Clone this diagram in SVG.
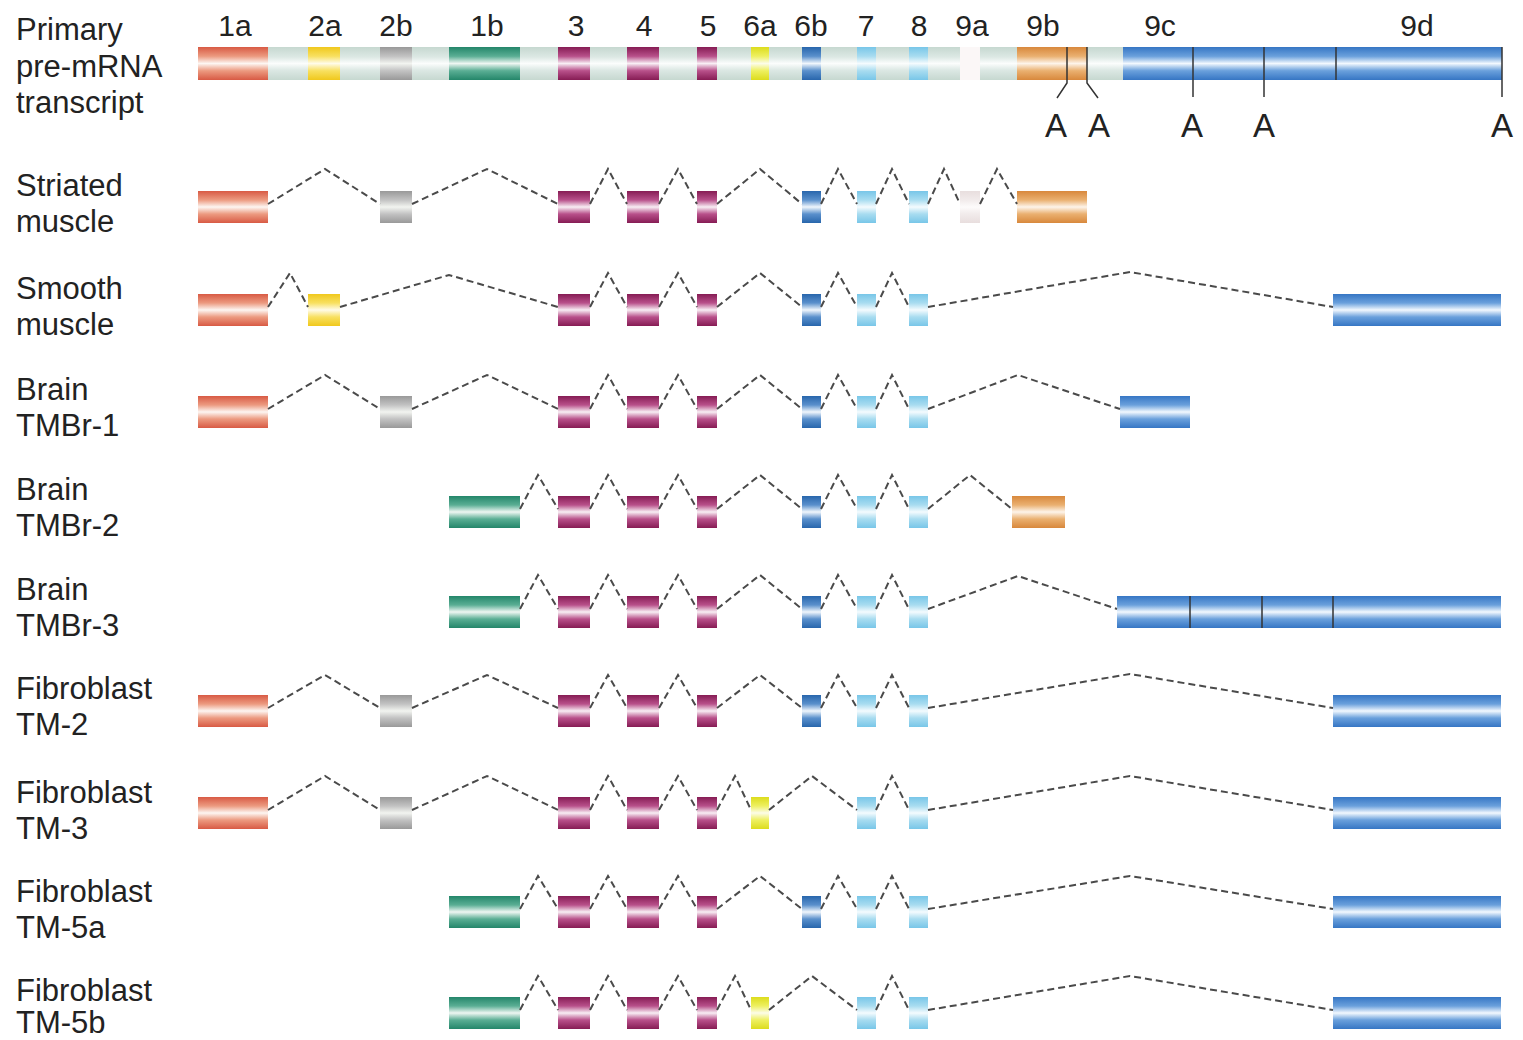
<svg xmlns="http://www.w3.org/2000/svg" width="1523" height="1040" viewBox="0 0 1523 1040">
<style>
text{font-family:"Liberation Sans",Arial,sans-serif;fill:#222}
.lab{font-size:31px}
.num{font-size:30px;text-anchor:middle}
.pa{font-size:33px;text-anchor:middle}
.conn{fill:none;stroke:#4a4a4a;stroke-width:2;stroke-dasharray:7 4}
.tick{stroke:#333;stroke-width:1.5;fill:none}
</style>
<defs>
<linearGradient id="gRed" x1="0" y1="0" x2="0" y2="1"><stop offset="0" stop-color="#d85a44"/><stop offset="0.28" stop-color="#ec9a80"/><stop offset="0.5" stop-color="#fdf6f2"/><stop offset="0.72" stop-color="#ec9a80"/><stop offset="1" stop-color="#d85a44"/></linearGradient>
<linearGradient id="gYel" x1="0" y1="0" x2="0" y2="1"><stop offset="0" stop-color="#f0c81c"/><stop offset="0.28" stop-color="#f8e060"/><stop offset="0.5" stop-color="#fffbe8"/><stop offset="0.72" stop-color="#f8e060"/><stop offset="1" stop-color="#f0c81c"/></linearGradient>
<linearGradient id="gGray" x1="0" y1="0" x2="0" y2="1"><stop offset="0" stop-color="#999"/><stop offset="0.28" stop-color="#c2c2c2"/><stop offset="0.5" stop-color="#f2f4f0"/><stop offset="0.72" stop-color="#c2c2c2"/><stop offset="1" stop-color="#999"/></linearGradient>
<linearGradient id="gGreen" x1="0" y1="0" x2="0" y2="1"><stop offset="0" stop-color="#24866a"/><stop offset="0.28" stop-color="#5aae94"/><stop offset="0.5" stop-color="#eef6f2"/><stop offset="0.72" stop-color="#5aae94"/><stop offset="1" stop-color="#24866a"/></linearGradient>
<linearGradient id="gMag" x1="0" y1="0" x2="0" y2="1"><stop offset="0" stop-color="#861c54"/><stop offset="0.28" stop-color="#b8508a"/><stop offset="0.5" stop-color="#f8eef4"/><stop offset="0.72" stop-color="#b8508a"/><stop offset="1" stop-color="#861c54"/></linearGradient>
<linearGradient id="gYG" x1="0" y1="0" x2="0" y2="1"><stop offset="0" stop-color="#dcdc1c"/><stop offset="0.28" stop-color="#eef060"/><stop offset="0.5" stop-color="#fcfce8"/><stop offset="0.72" stop-color="#eef060"/><stop offset="1" stop-color="#dcdc1c"/></linearGradient>
<linearGradient id="gBlue6" x1="0" y1="0" x2="0" y2="1"><stop offset="0" stop-color="#2866ac"/><stop offset="0.28" stop-color="#5a90cc"/><stop offset="0.5" stop-color="#f0f6fc"/><stop offset="0.72" stop-color="#5a90cc"/><stop offset="1" stop-color="#2866ac"/></linearGradient>
<linearGradient id="gLB" x1="0" y1="0" x2="0" y2="1"><stop offset="0" stop-color="#78c6e8"/><stop offset="0.28" stop-color="#a8dcf0"/><stop offset="0.5" stop-color="#f4fbfe"/><stop offset="0.72" stop-color="#a8dcf0"/><stop offset="1" stop-color="#78c6e8"/></linearGradient>
<linearGradient id="g9a" x1="0" y1="0" x2="0" y2="1"><stop offset="0" stop-color="#e8dede"/><stop offset="0.3" stop-color="#f2ecec"/><stop offset="0.5" stop-color="#fdfbfb"/><stop offset="0.7" stop-color="#f2ecec"/><stop offset="1" stop-color="#e8dede"/></linearGradient>
<linearGradient id="gOr" x1="0" y1="0" x2="0" y2="1"><stop offset="0" stop-color="#d8883c"/><stop offset="0.28" stop-color="#eab070"/><stop offset="0.5" stop-color="#fdf4ea"/><stop offset="0.72" stop-color="#eab070"/><stop offset="1" stop-color="#d8883c"/></linearGradient>
<linearGradient id="gBlue9" x1="0" y1="0" x2="0" y2="1"><stop offset="0" stop-color="#3676c4"/><stop offset="0.28" stop-color="#6aa0dc"/><stop offset="0.5" stop-color="#f2f8fe"/><stop offset="0.72" stop-color="#6aa0dc"/><stop offset="1" stop-color="#3676c4"/></linearGradient>
<linearGradient id="gIntron" x1="0" y1="0" x2="0" y2="1"><stop offset="0" stop-color="#c6d8d0"/><stop offset="0.3" stop-color="#dce8e4"/><stop offset="0.5" stop-color="#fbfdfc"/><stop offset="0.7" stop-color="#dce8e4"/><stop offset="1" stop-color="#c6d8d0"/></linearGradient>
</defs>
<rect width="1523" height="1040" fill="#fff"/>

<g id="primary">
<text class="lab" x="16" y="40">Primary</text>
<text class="lab" x="16" y="77">pre-mRNA</text>
<text class="lab" x="16" y="113">transcript</text>
<text class="num" x="235" y="36">1a</text>
<text class="num" x="325" y="36">2a</text>
<text class="num" x="396" y="36">2b</text>
<text class="num" x="487" y="36">1b</text>
<text class="num" x="576" y="36">3</text>
<text class="num" x="644" y="36">4</text>
<text class="num" x="708" y="36">5</text>
<text class="num" x="760" y="36">6a</text>
<text class="num" x="811" y="36">6b</text>
<text class="num" x="866" y="36">7</text>
<text class="num" x="919" y="36">8</text>
<text class="num" x="972" y="36">9a</text>
<text class="num" x="1043" y="36">9b</text>
<text class="num" x="1160" y="36">9c</text>
<text class="num" x="1417" y="36">9d</text>
<rect x="198" y="47" width="1304" height="33" fill="url(#gIntron)"/>
<rect x="198" y="47" width="70" height="33" fill="url(#gRed)"/>
<rect x="308" y="47" width="32" height="33" fill="url(#gYel)"/>
<rect x="380" y="47" width="32" height="33" fill="url(#gGray)"/>
<rect x="449" y="47" width="71" height="33" fill="url(#gGreen)"/>
<rect x="558" y="47" width="32" height="33" fill="url(#gMag)"/>
<rect x="627" y="47" width="32" height="33" fill="url(#gMag)"/>
<rect x="697" y="47" width="20" height="33" fill="url(#gMag)"/>
<rect x="751" y="47" width="18" height="33" fill="url(#gYG)"/>
<rect x="802" y="47" width="19" height="33" fill="url(#gBlue6)"/>
<rect x="857" y="47" width="19" height="33" fill="url(#gLB)"/>
<rect x="909" y="47" width="19" height="33" fill="url(#gLB)"/>
<rect x="960" y="47" width="20" height="33" fill="#fbf7f7"/>
<rect x="1017" y="47" width="70" height="33" fill="url(#gOr)"/>
<rect x="1123" y="47" width="379" height="33" fill="url(#gBlue9)"/>
<polyline class="tick" points="1067,47 1067,83 1057,98"/>
<polyline class="tick" points="1087,47 1087,83 1098,98"/>
<line class="tick" x1="1193" y1="47" x2="1193" y2="97"/>
<line class="tick" x1="1264" y1="47" x2="1264" y2="97"/>
<line class="tick" x1="1336" y1="47" x2="1336" y2="80"/>
<line class="tick" x1="1502" y1="47" x2="1502" y2="97"/>
<text class="pa" x="1056" y="137">A</text>
<text class="pa" x="1099" y="137">A</text>
<text class="pa" x="1192" y="137">A</text>
<text class="pa" x="1264" y="137">A</text>
<text class="pa" x="1502" y="137">A</text>
</g>

<g id="striated-muscle">
<text class="lab" x="16" y="196">Striated</text>
<text class="lab" x="16" y="232">muscle</text>
<rect x="198" y="191" width="70" height="32" fill="url(#gRed)"/>
<rect x="380" y="191" width="32" height="32" fill="url(#gGray)"/>
<rect x="558" y="191" width="32" height="32" fill="url(#gMag)"/>
<rect x="627" y="191" width="32" height="32" fill="url(#gMag)"/>
<rect x="697" y="191" width="20" height="32" fill="url(#gMag)"/>
<rect x="802" y="191" width="19" height="32" fill="url(#gBlue6)"/>
<rect x="857" y="191" width="19" height="32" fill="url(#gLB)"/>
<rect x="909" y="191" width="19" height="32" fill="url(#gLB)"/>
<rect x="960" y="191" width="20" height="32" fill="url(#g9a)"/>
<rect x="1017" y="191" width="70" height="32" fill="url(#gOr)"/>
</g>

<g id="smooth-muscle">
<text class="lab" x="16" y="299">Smooth</text>
<text class="lab" x="16" y="335">muscle</text>
<rect x="198" y="294" width="70" height="32" fill="url(#gRed)"/>
<rect x="308" y="294" width="32" height="32" fill="url(#gYel)"/>
<rect x="558" y="294" width="32" height="32" fill="url(#gMag)"/>
<rect x="627" y="294" width="32" height="32" fill="url(#gMag)"/>
<rect x="697" y="294" width="20" height="32" fill="url(#gMag)"/>
<rect x="802" y="294" width="19" height="32" fill="url(#gBlue6)"/>
<rect x="857" y="294" width="19" height="32" fill="url(#gLB)"/>
<rect x="909" y="294" width="19" height="32" fill="url(#gLB)"/>
<rect x="1333" y="294" width="168" height="32" fill="url(#gBlue9)"/>
</g>

<g id="brain-tmbr-1">
<text class="lab" x="16" y="400">Brain</text>
<text class="lab" x="16" y="436">TMBr-1</text>
<rect x="198" y="396" width="70" height="32" fill="url(#gRed)"/>
<rect x="380" y="396" width="32" height="32" fill="url(#gGray)"/>
<rect x="558" y="396" width="32" height="32" fill="url(#gMag)"/>
<rect x="627" y="396" width="32" height="32" fill="url(#gMag)"/>
<rect x="697" y="396" width="20" height="32" fill="url(#gMag)"/>
<rect x="802" y="396" width="19" height="32" fill="url(#gBlue6)"/>
<rect x="857" y="396" width="19" height="32" fill="url(#gLB)"/>
<rect x="909" y="396" width="19" height="32" fill="url(#gLB)"/>
<rect x="1120" y="396" width="70" height="32" fill="url(#gBlue9)"/>
</g>

<g id="brain-tmbr-2">
<text class="lab" x="16" y="500">Brain</text>
<text class="lab" x="16" y="536">TMBr-2</text>
<rect x="449" y="496" width="71" height="32" fill="url(#gGreen)"/>
<rect x="558" y="496" width="32" height="32" fill="url(#gMag)"/>
<rect x="627" y="496" width="32" height="32" fill="url(#gMag)"/>
<rect x="697" y="496" width="20" height="32" fill="url(#gMag)"/>
<rect x="802" y="496" width="19" height="32" fill="url(#gBlue6)"/>
<rect x="857" y="496" width="19" height="32" fill="url(#gLB)"/>
<rect x="909" y="496" width="19" height="32" fill="url(#gLB)"/>
<rect x="1012" y="496" width="53" height="32" fill="url(#gOr)"/>
</g>

<g id="brain-tmbr-3">
<text class="lab" x="16" y="600">Brain</text>
<text class="lab" x="16" y="636">TMBr-3</text>
<rect x="449" y="596" width="71" height="32" fill="url(#gGreen)"/>
<rect x="558" y="596" width="32" height="32" fill="url(#gMag)"/>
<rect x="627" y="596" width="32" height="32" fill="url(#gMag)"/>
<rect x="697" y="596" width="20" height="32" fill="url(#gMag)"/>
<rect x="802" y="596" width="19" height="32" fill="url(#gBlue6)"/>
<rect x="857" y="596" width="19" height="32" fill="url(#gLB)"/>
<rect x="909" y="596" width="19" height="32" fill="url(#gLB)"/>
<rect x="1117" y="596" width="384" height="32" fill="url(#gBlue9)"/>
<line class="tick" x1="1190" y1="596" x2="1190" y2="628"/>
<line class="tick" x1="1262" y1="596" x2="1262" y2="628"/>
<line class="tick" x1="1333" y1="596" x2="1333" y2="628"/>
</g>

<g id="fibroblast-tm-2">
<text class="lab" x="16" y="699">Fibroblast</text>
<text class="lab" x="16" y="735">TM-2</text>
<rect x="198" y="695" width="70" height="32" fill="url(#gRed)"/>
<rect x="380" y="695" width="32" height="32" fill="url(#gGray)"/>
<rect x="558" y="695" width="32" height="32" fill="url(#gMag)"/>
<rect x="627" y="695" width="32" height="32" fill="url(#gMag)"/>
<rect x="697" y="695" width="20" height="32" fill="url(#gMag)"/>
<rect x="802" y="695" width="19" height="32" fill="url(#gBlue6)"/>
<rect x="857" y="695" width="19" height="32" fill="url(#gLB)"/>
<rect x="909" y="695" width="19" height="32" fill="url(#gLB)"/>
<rect x="1333" y="695" width="168" height="32" fill="url(#gBlue9)"/>
</g>

<g id="fibroblast-tm-3">
<text class="lab" x="16" y="803">Fibroblast</text>
<text class="lab" x="16" y="839">TM-3</text>
<rect x="198" y="797" width="70" height="32" fill="url(#gRed)"/>
<rect x="380" y="797" width="32" height="32" fill="url(#gGray)"/>
<rect x="558" y="797" width="32" height="32" fill="url(#gMag)"/>
<rect x="627" y="797" width="32" height="32" fill="url(#gMag)"/>
<rect x="697" y="797" width="20" height="32" fill="url(#gMag)"/>
<rect x="751" y="797" width="18" height="32" fill="url(#gYG)"/>
<rect x="857" y="797" width="19" height="32" fill="url(#gLB)"/>
<rect x="909" y="797" width="19" height="32" fill="url(#gLB)"/>
<rect x="1333" y="797" width="168" height="32" fill="url(#gBlue9)"/>
</g>

<g id="fibroblast-tm-5a">
<text class="lab" x="16" y="902">Fibroblast</text>
<text class="lab" x="16" y="938">TM-5a</text>
<rect x="449" y="896" width="71" height="32" fill="url(#gGreen)"/>
<rect x="558" y="896" width="32" height="32" fill="url(#gMag)"/>
<rect x="627" y="896" width="32" height="32" fill="url(#gMag)"/>
<rect x="697" y="896" width="20" height="32" fill="url(#gMag)"/>
<rect x="802" y="896" width="19" height="32" fill="url(#gBlue6)"/>
<rect x="857" y="896" width="19" height="32" fill="url(#gLB)"/>
<rect x="909" y="896" width="19" height="32" fill="url(#gLB)"/>
<rect x="1333" y="896" width="168" height="32" fill="url(#gBlue9)"/>
</g>

<g id="fibroblast-tm-5b">
<text class="lab" x="16" y="1001">Fibroblast</text>
<text class="lab" x="16" y="1033">TM-5b</text>
<rect x="449" y="997" width="71" height="32" fill="url(#gGreen)"/>
<rect x="558" y="997" width="32" height="32" fill="url(#gMag)"/>
<rect x="627" y="997" width="32" height="32" fill="url(#gMag)"/>
<rect x="697" y="997" width="20" height="32" fill="url(#gMag)"/>
<rect x="751" y="997" width="18" height="32" fill="url(#gYG)"/>
<rect x="857" y="997" width="19" height="32" fill="url(#gLB)"/>
<rect x="909" y="997" width="19" height="32" fill="url(#gLB)"/>
<rect x="1333" y="997" width="168" height="32" fill="url(#gBlue9)"/>
</g>

<g id="connectors">
<polyline class="conn" points="268,204 325,169 380,204"/>
<polyline class="conn" points="412,204 487,169 558,204"/>
<polyline class="conn" points="590,204 608,169 627,204"/>
<polyline class="conn" points="659,204 678,169 697,204"/>
<polyline class="conn" points="717,204 760,169 802,204"/>
<polyline class="conn" points="821,204 838,169 857,204"/>
<polyline class="conn" points="876,204 892,169 909,204"/>
<polyline class="conn" points="928,204 944,169 960,204"/>
<polyline class="conn" points="980,204 997,169 1017,204"/>
<polyline class="conn" points="268,307 290,273 308,307"/>
<polyline class="conn" points="340,307 449,275 558,307"/>
<polyline class="conn" points="590,307 608,273 627,307"/>
<polyline class="conn" points="659,307 678,273 697,307"/>
<polyline class="conn" points="717,307 760,273 802,307"/>
<polyline class="conn" points="821,307 838,273 857,307"/>
<polyline class="conn" points="876,307 892,273 909,307"/>
<polyline class="conn" points="928,307 1130,272 1333,307"/>
<polyline class="conn" points="268,409 325,375 380,409"/>
<polyline class="conn" points="412,409 487,375 558,409"/>
<polyline class="conn" points="590,409 608,375 627,409"/>
<polyline class="conn" points="659,409 678,375 697,409"/>
<polyline class="conn" points="717,409 760,375 802,409"/>
<polyline class="conn" points="821,409 838,375 857,409"/>
<polyline class="conn" points="876,409 892,375 909,409"/>
<polyline class="conn" points="928,409 1018,375 1120,409"/>
<polyline class="conn" points="520,509 538,475 558,509"/>
<polyline class="conn" points="590,509 608,475 627,509"/>
<polyline class="conn" points="659,509 678,475 697,509"/>
<polyline class="conn" points="717,509 760,475 802,509"/>
<polyline class="conn" points="821,509 838,475 857,509"/>
<polyline class="conn" points="876,509 892,475 909,509"/>
<polyline class="conn" points="928,509 970,475 1012,509"/>
<polyline class="conn" points="520,609 538,575 558,609"/>
<polyline class="conn" points="590,609 608,575 627,609"/>
<polyline class="conn" points="659,609 678,575 697,609"/>
<polyline class="conn" points="717,609 760,575 802,609"/>
<polyline class="conn" points="821,609 838,575 857,609"/>
<polyline class="conn" points="876,609 892,575 909,609"/>
<polyline class="conn" points="928,609 1018,576 1117,609"/>
<polyline class="conn" points="268,708 325,675 380,708"/>
<polyline class="conn" points="412,708 487,675 558,708"/>
<polyline class="conn" points="590,708 608,675 627,708"/>
<polyline class="conn" points="659,708 678,675 697,708"/>
<polyline class="conn" points="717,708 760,675 802,708"/>
<polyline class="conn" points="821,708 838,675 857,708"/>
<polyline class="conn" points="876,708 892,675 909,708"/>
<polyline class="conn" points="928,708 1130,674 1333,708"/>
<polyline class="conn" points="268,810 325,776 380,810"/>
<polyline class="conn" points="412,810 487,776 558,810"/>
<polyline class="conn" points="590,810 608,776 627,810"/>
<polyline class="conn" points="659,810 678,776 697,810"/>
<polyline class="conn" points="717,810 735,776 751,810"/>
<polyline class="conn" points="769,810 812,776 857,810"/>
<polyline class="conn" points="876,810 892,776 909,810"/>
<polyline class="conn" points="928,810 1130,776 1333,810"/>
<polyline class="conn" points="520,909 538,876 558,909"/>
<polyline class="conn" points="590,909 608,876 627,909"/>
<polyline class="conn" points="659,909 678,876 697,909"/>
<polyline class="conn" points="717,909 760,876 802,909"/>
<polyline class="conn" points="821,909 838,876 857,909"/>
<polyline class="conn" points="876,909 892,876 909,909"/>
<polyline class="conn" points="928,909 1130,876 1333,909"/>
<polyline class="conn" points="520,1010 538,976 558,1010"/>
<polyline class="conn" points="590,1010 608,976 627,1010"/>
<polyline class="conn" points="659,1010 678,976 697,1010"/>
<polyline class="conn" points="717,1010 735,976 751,1010"/>
<polyline class="conn" points="769,1010 812,976 857,1010"/>
<polyline class="conn" points="876,1010 892,976 909,1010"/>
<polyline class="conn" points="928,1010 1130,976 1333,1010"/>
</g>
</svg>
